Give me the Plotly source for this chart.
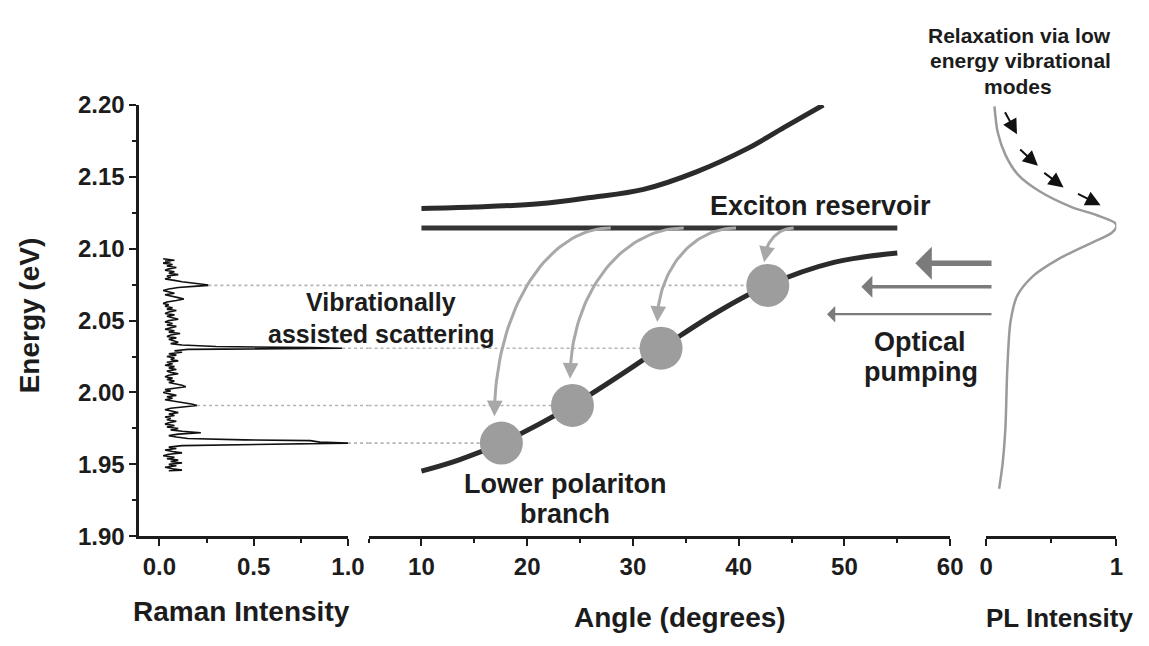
import numpy as np
import plotly.graph_objects as go

W, H = 1149, 646
FONT = "Liberation Sans, Arial, Helvetica, sans-serif"
INK = "#1c1c1c"
CURVE = "#2b2b2b"
LIGHT = "#a8a8a8"
DOT = "#b4b4b4"
PUMP = "#7b7b7b"
BALL = "#9d9d9d"

# ---------------- data ----------------
# Raman spectrum: energy (eV) and normalised intensity
raman_energy = [
    1.9455, 1.946, 1.947, 1.948, 1.949, 1.950, 1.951, 1.952, 1.953, 1.954,
    1.955, 1.956, 1.957, 1.958, 1.959, 1.960, 1.961, 1.962, 1.963, 1.964,
    1.9648, 1.9655, 1.966, 1.9665, 1.967, 1.968, 1.969, 1.970, 1.971, 1.972,
    1.973, 1.974, 1.975, 1.976, 1.977, 1.978, 1.979, 1.980, 1.981, 1.982,
    1.983, 1.984, 1.985, 1.986, 1.987, 1.988, 1.989, 1.990, 1.991, 1.992,
    1.993, 1.994, 1.995, 1.996, 1.997, 1.998, 1.999, 2.000, 2.001, 2.002,
    2.003, 2.004, 2.005, 2.006, 2.007, 2.008, 2.009, 2.010, 2.011, 2.012,
    2.013, 2.014, 2.015, 2.016, 2.017, 2.018, 2.019, 2.020, 2.021, 2.022,
    2.023, 2.024, 2.025, 2.026, 2.027, 2.028, 2.029, 2.030, 2.0303, 2.0308,
    2.0312, 2.032, 2.033, 2.034, 2.035, 2.036, 2.037, 2.038, 2.039, 2.040,
    2.041, 2.042, 2.043, 2.044, 2.045, 2.046, 2.047, 2.048, 2.049, 2.050,
    2.051, 2.052, 2.053, 2.054, 2.055, 2.056, 2.057, 2.058, 2.059, 2.060,
    2.061, 2.062, 2.063, 2.064, 2.065, 2.066, 2.067, 2.068, 2.069, 2.070,
    2.071, 2.072, 2.073, 2.074, 2.0745, 2.075, 2.076, 2.077, 2.078, 2.079,
    2.080, 2.081, 2.082, 2.083, 2.084, 2.085, 2.086, 2.087, 2.088, 2.089,
    2.090, 2.091, 2.0915, 2.092, 2.093,
]
raman_intensity = [
    0.05, 0.12, 0.07, 0.03, 0.09, 0.05, 0.12, 0.06, 0.10, 0.04,
    0.08, 0.02, 0.05, 0.12, 0.07, 0.03, 0.09, 0.05, 0.12, 0.55,
    1.00, 0.85, 0.82, 0.80, 0.45, 0.15, 0.09, 0.05, 0.10, 0.22,
    0.12, 0.06, 0.10, 0.04, 0.08, 0.03, 0.05, 0.09, 0.04, 0.06,
    0.03, 0.08, 0.05, 0.10, 0.07, 0.03, 0.06, 0.13, 0.20, 0.17,
    0.12, 0.08, 0.03, 0.07, 0.04, 0.09, 0.05, 0.02, 0.06, 0.03,
    0.08, 0.14, 0.12, 0.09, 0.05, 0.08, 0.04, 0.07, 0.03, 0.05,
    0.10, 0.06, 0.04, 0.09, 0.05, 0.08, 0.03, 0.07, 0.04, 0.10,
    0.06, 0.08, 0.04, 0.09, 0.05, 0.12, 0.08, 0.15, 0.60, 0.97,
    0.80, 0.30, 0.12, 0.06, 0.10, 0.07, 0.05, 0.09, 0.04, 0.06,
    0.11, 0.05, 0.08, 0.03, 0.06, 0.09, 0.04, 0.07, 0.03, 0.05,
    0.10, 0.06, 0.04, 0.08, 0.03, 0.05, 0.09, 0.04, 0.07, 0.03,
    0.05, 0.02, 0.04, 0.09, 0.13, 0.10, 0.06, 0.03, 0.08, 0.04,
    0.02, 0.05, 0.10, 0.20, 0.26, 0.25, 0.18, 0.12, 0.08, 0.03,
    0.06, 0.04, 0.10, 0.05, 0.08, 0.03, 0.05, 0.09, 0.04, 0.07,
    0.02, 0.06, 0.03, 0.08, 0.02,
]

# vibrational modes: Raman peak energies and the polariton angles they feed
mode_energy = [1.9648, 1.991, 2.0308, 2.0745]
mode_angle = [17.56, 24.28, 32.66, 42.75]

# upper polariton branch
up_angle = [10, 15, 21.1, 26, 31, 36, 40.9, 44.3, 48]
up_energy = [2.128, 2.129, 2.1313, 2.1357, 2.1413, 2.1535, 2.170, 2.1845, 2.20]

# lower polariton branch
lp_angle = [10, 13.5, 17.56, 24.28, 32.66, 38, 42.75, 49, 55]
lp_energy = [1.9453, 1.953, 1.9648, 1.991, 2.0308, 2.056, 2.0745, 2.0905, 2.097]

# exciton reservoir
exciton_angle = [10, 55]
exciton_energy = 2.1145

# scattering arrows: start angle on the reservoir, tip angle and tip energy
scatter_start_angle = [27.9, 34.8, 39.75, 45.2]
scatter_tip_angle = [16.9, 24.05, 32.3, 42.4]
scatter_tip_energy = [1.9834, 2.0096, 2.049, 2.0906]

# photoluminescence spectrum
pl_intensity = [0.064, 0.089, 0.15, 0.25, 0.41, 0.657, 0.852, 0.99, 1.0, 0.963,
                0.805, 0.558, 0.36, 0.237, 0.187, 0.163, 0.148, 0.126, 0.10]
pl_energy = [2.199, 2.181, 2.165, 2.151, 2.140, 2.129, 2.1233, 2.118, 2.1153, 2.111,
             2.104, 2.093, 2.081, 2.067, 2.049, 2.017, 1.975, 1.95, 1.933]

# optical pumping arrows: tip angle, energy (tails sit beyond the angle axis)
pump_tip_angle = [56.7, 51.6, 48.35]
pump_energy = [2.090, 2.0735, 2.0545]
pump_tail_angle = 64.05

# relaxation arrows along the PL high-energy side
relax_tail_pl = [0.139, 0.25, 0.435, 0.694]
relax_tail_e = [2.196, 2.170, 2.1536, 2.1387]
relax_tip_pl = [0.237, 0.398, 0.595, 0.879]
relax_tip_e = [2.1797, 2.1577, 2.1427, 2.1303]

# ---------------- layout geometry ----------------
RAMAN_DOM = [135 / W, 348.3 / W]
ANGLE_DOM = [369.3 / W, 963.3 / W]
PL_DOM = [1000 / W, 1133 / W]
Y_DOM = [(H - 545) / H, (H - 95) / H]


def pxpos(x, y):
    return x / W, 1 - y / H


fig = go.Figure()

# Raman spectrum
fig.add_trace(go.Scatter(x=raman_intensity, y=raman_energy, xaxis="x", yaxis="y",
                         mode="lines", line=dict(color="#111111", width=1.6),
                         hoverinfo="skip"))

# dotted guides from each Raman peak across to the polariton branch
mode_peak = [raman_intensity[raman_energy.index(e)] for e in mode_energy]
for e, r, a in zip(mode_energy, mode_peak, mode_angle):
    dot_line = dict(color=DOT, width=1.6, dash="dot")
    fig.add_trace(go.Scatter(x=[r, 1.0], y=[e, e], xaxis="x", yaxis="y",
                             mode="lines", line=dot_line, hoverinfo="skip"))
    fig.add_shape(type="line", xref="paper", yref="y", x0=RAMAN_DOM[1], x1=ANGLE_DOM[0],
                  y0=e, y1=e, line=dot_line, layer="below")
    fig.add_trace(go.Scatter(x=[5, a], y=[e, e], xaxis="x2", yaxis="y",
                             mode="lines", line=dot_line, hoverinfo="skip"))

# dispersion curves
fig.add_trace(go.Scatter(x=up_angle, y=up_energy, xaxis="x2", yaxis="y", mode="lines",
                         line=dict(color=CURVE, width=5, shape="spline", smoothing=1.0),
                         hoverinfo="skip"))
fig.add_trace(go.Scatter(x=exciton_angle, y=[exciton_energy] * 2, xaxis="x2", yaxis="y",
                         mode="lines", line=dict(color="#353535", width=5),
                         hoverinfo="skip"))
fig.add_trace(go.Scatter(x=lp_angle, y=lp_energy, xaxis="x2", yaxis="y", mode="lines",
                         line=dict(color=CURVE, width=5, shape="spline", smoothing=1.0),
                         hoverinfo="skip"))

# scattering arcs from the reservoir down to the branch
HEAD_GAP = 0.010
for a0, a1, e1 in zip(scatter_start_angle, scatter_tip_angle, scatter_tip_energy):
    rx = a0 - a1
    ry = exciton_energy - e1
    t_end = np.arccos(min(HEAD_GAP / ry, 1.0))
    t = np.linspace(0, t_end, 40)
    xs = a0 - rx * np.sin(t)
    ys = e1 + ry * np.cos(t)
    fig.add_trace(go.Scatter(x=xs, y=ys, xaxis="x2", yaxis="y", mode="lines",
                             line=dict(color=LIGHT, width=3.0), hoverinfo="skip"))
    fig.add_annotation(x=a1, y=e1, xref="x2", yref="y", ax=xs[-1], ay=ys[-1],
                       axref="x2", ayref="y", showarrow=True, arrowhead=2,
                       arrowsize=1.05, arrowwidth=3.0, arrowcolor=LIGHT, text="")

# polariton population
fig.add_trace(go.Scatter(x=mode_angle, y=mode_energy, xaxis="x2", yaxis="y",
                         mode="markers", marker=dict(color=BALL, size=43, line=dict(width=0)),
                         hoverinfo="skip"))

# PL spectrum
fig.add_trace(go.Scatter(x=pl_intensity, y=pl_energy, xaxis="x3", yaxis="y", mode="lines",
                         line=dict(color="#9a9a9a", width=2.5, shape="spline", smoothing=0.8),
                         hoverinfo="skip"))

# optical pumping arrows
pump_widths = [5.5, 3.5, 2.2]
pump_heads = [1.0, 1.05, 1.25]
for a, e, w, s in zip(pump_tip_angle, pump_energy, pump_widths, pump_heads):
    fig.add_annotation(x=a, y=e, xref="x2", yref="y", ax=pump_tail_angle, ay=e,
                       axref="x2", ayref="y", showarrow=True, arrowhead=1,
                       arrowsize=s, arrowwidth=w, arrowcolor=PUMP, text="")

# relaxation arrows
for xt, yt, xh, yh in zip(relax_tail_pl, relax_tail_e, relax_tip_pl, relax_tip_e):
    fig.add_annotation(x=xh, y=yh, xref="x3", yref="y", ax=xt, ay=yt,
                       axref="x3", ayref="y", showarrow=True, arrowhead=2,
                       arrowsize=1.5, arrowwidth=2, arrowcolor="#111111", text="")


# text labels
def label(text, x, y, size=27, angle=0):
    xp, yp = pxpos(x, y)
    fig.add_annotation(text=text, x=xp, y=yp, xref="paper", yref="paper",
                       xanchor="center", yanchor="middle", showarrow=False,
                       textangle=angle,
                       font=dict(family=FONT, size=size, color=INK, weight="bold"))


label("Exciton reservoir", 831, 200)
label("Vibrationally", 382, 301, size=25)
label("assisted scattering", 382, 334, size=25)
label("Lower polariton", 570, 490)
label("branch", 570, 522)
label("Optical", 932, 342)
label("pumping", 933, 374)
label("Relaxation via low", 1034, 22, size=21)
label("energy vibrational", 1035, 49, size=21)
label("modes", 1033, 76, size=21)

label("Energy (eV)", 23, 315, size=28, angle=-90)
label("Raman Intensity", 240, 624, size=28)
label("Angle (degrees)", 687, 630, size=28)
label("PL Intensity", 1075, 630, size=26)

tick_font = dict(family=FONT, size=24, color=INK, weight="bold")
axis_common = dict(showline=True, linecolor=INK, linewidth=2.5, ticks="outside",
                   ticklen=7, tickwidth=2.2, tickcolor=INK, showgrid=False,
                   zeroline=False, tickfont=tick_font, fixedrange=True)


def minor(vals):
    return dict(tickmode="array", tickvals=vals, ticks="outside", ticklen=4,
                tickwidth=2.2, tickcolor=INK, showgrid=False)


fig.update_layout(
    width=W, height=H, margin=dict(l=0, r=0, t=0, b=0),
    plot_bgcolor="white", paper_bgcolor="white", showlegend=False,
    xaxis=dict(domain=RAMAN_DOM, range=[-0.107, 1.0], anchor="y",
               tickmode="array", tickvals=[0, 0.5, 1.0], ticktext=["0.0", "0.5", "1.0"],
               minor=minor([0.25, 0.75]), **axis_common),
    xaxis2=dict(domain=ANGLE_DOM, range=[5, 60], anchor="y",
                tickmode="array", tickvals=[10, 20, 30, 40, 50, 60],
                minor=minor([5, 15, 25, 35, 45, 55]), **axis_common),
    xaxis3=dict(domain=PL_DOM, range=[0, 1], anchor="y",
                tickmode="array", tickvals=[0, 1], ticktext=["0", "1"],
                minor=minor([0.5]), **axis_common),
    yaxis=dict(domain=Y_DOM, range=[1.90, 2.20], anchor="x",
               tickmode="array", tickvals=[1.90, 1.95, 2.00, 2.05, 2.10, 2.15, 2.20],
               ticktext=["1.90", "1.95", "2.00", "2.05", "2.10", "2.15", "2.20"],
               minor=minor([1.925, 1.975, 2.025, 2.075, 2.125, 2.175]), **axis_common),
)

fig.write_html("out.html")
